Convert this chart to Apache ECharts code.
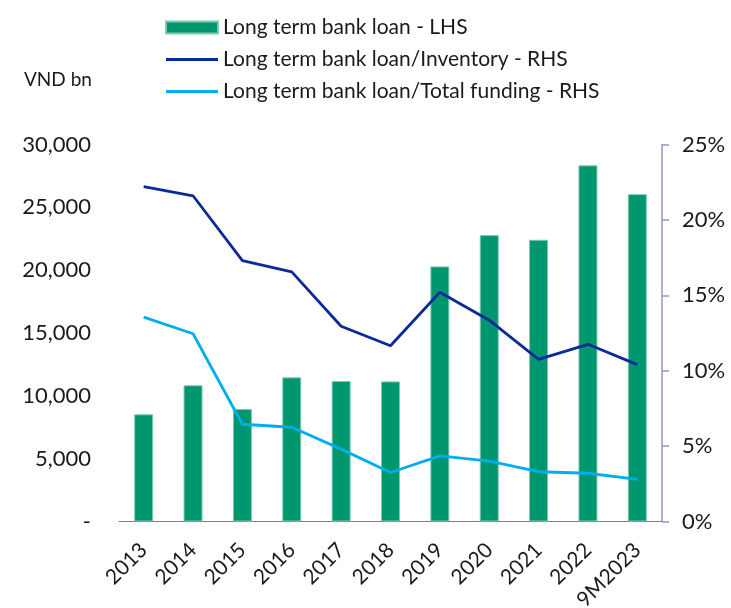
<!DOCTYPE html>
<html>
<head>
<meta charset="utf-8">
<script src="https://cdn.jsdelivr.net/npm/echarts@6/dist/echarts.min.js"></script>
<style>html,body{margin:0;padding:0;background:#fff}#c{width:731px;height:608px}</style>
</head>
<body>
<div id="c"></div>
<script>
var categories = ['2013','2014','2015','2016','2017','2018','2019','2020','2021','2022','9M2023'];
var bankLoan = [8530, 10840, 8950, 11470, 11180, 11150, 20300, 22790, 22420, 28340, 26050];
var loanToInventory = [22.2, 21.6, 17.3, 16.55, 12.95, 11.65, 15.2, 13.35, 10.75, 11.75, 10.4];
var loanToFunding = [13.55, 12.45, 6.45, 6.25, 4.8, 3.25, 4.35, 4.0, 3.3, 3.2, 2.8];
var seriesNames = ['Long term bank loan - LHS', 'Long term bank loan/Inventory - RHS', 'Long term bank loan/Total funding - RHS'];
var unitLabel = 'VND bn';

var FONT = 'Lato';
var LINE_ICON = 'path://M0,0M0,4.6L52,4.6L52,7.4L0,7.4ZM52,12';
var chart = echarts.init(document.getElementById('c'), null, {renderer: 'canvas'});
chart.setOption({
  backgroundColor: '#ffffff',
  animation: false,
  textStyle: {fontFamily: FONT, color: '#1a1a1a'},
  title: {
    text: unitLabel, left: 19, top: 65,
    textStyle: {fontFamily: FONT, fontSize: 19, fontWeight: 'normal', color: '#1a1a1a'}
  },
  legend: {
    orient: 'vertical', left: 160, top: 12,
    itemWidth: 52, itemHeight: 12, itemGap: 11,
    textStyle: {fontFamily: FONT, fontSize: 21, color: '#1a1a1a', lineHeight: 21},
    data: [
      {name: seriesNames[0], icon: 'rect'},
      {name: seriesNames[1], icon: LINE_ICON, itemStyle: {borderWidth: 0}},
      {name: seriesNames[2], icon: LINE_ICON, itemStyle: {borderWidth: 0}}
    ]
  },
  grid: {left: 119, right: 69, top: 144.5, bottom: 86.5, containLabel: false, outerBoundsMode: 'none'},
  xAxis: {
    type: 'category', data: categories,
    axisLine: {lineStyle: {color: '#808080', width: 1}},
    axisTick: {show: false},
    axisLabel: {rotate: 45, fontFamily: FONT, fontSize: 21, color: '#1a1a1a', margin: 25, interval: 0}
  },
  yAxis: [
    {
      type: 'value', min: 0, max: 30000, interval: 5000,
      axisLine: {show: false}, axisTick: {show: false}, splitLine: {show: false},
      axisLabel: {
        fontFamily: FONT, fontSize: 22, color: '#1a1a1a', margin: 28,
        formatter: function (v) { return v === 0 ? '-' : v.toString().replace(/\B(?=(\d{3})+(?!\d))/g, ','); }
      }
    },
    {
      type: 'value', min: 0, max: 25, interval: 5, position: 'right',
      axisLine: {show: true, lineStyle: {color: '#9496c6', width: 1.5}},
      axisTick: {show: true, length: 7, lineStyle: {color: '#9496c6', width: 1.5}},
      splitLine: {show: false},
      axisLabel: {fontFamily: FONT, fontSize: 22, color: '#1a1a1a', margin: 20, formatter: '{value}%'}
    }
  ],
  series: [
    {
      name: seriesNames[0], type: 'bar', data: bankLoan, yAxisIndex: 0,
      barWidth: 19,
      itemStyle: {color: '#00976f', borderColor: '#7fcab3', borderWidth: 1}
    },
    {
      name: seriesNames[1], type: 'line', data: loanToInventory, yAxisIndex: 1,
      symbol: 'none', lineStyle: {color: '#0b2a9a', width: 2.8}, itemStyle: {color: '#0b2a9a'}
    },
    {
      name: seriesNames[2], type: 'line', data: loanToFunding, yAxisIndex: 1,
      symbol: 'none', lineStyle: {color: '#00aeef', width: 2.8}, itemStyle: {color: '#00aeef'}
    }
  ]
});
</script>
</body>
</html>
